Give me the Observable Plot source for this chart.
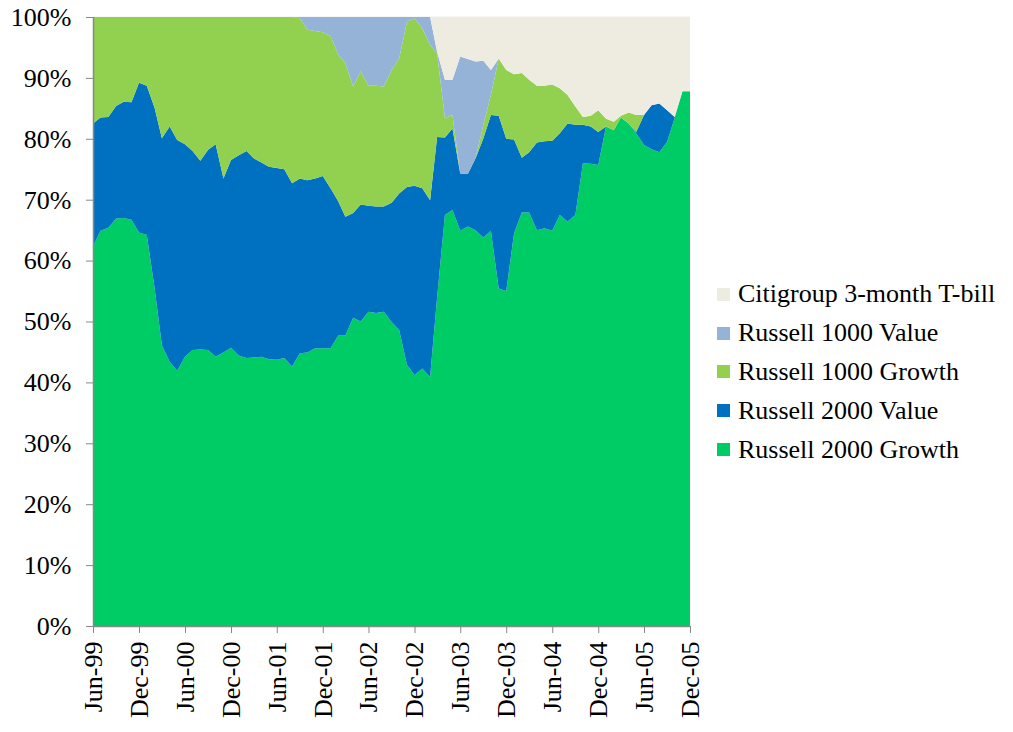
<!DOCTYPE html>
<html><head><meta charset="utf-8">
<script src="https://cdn.jsdelivr.net/npm/d3@7"></script>
<script src="https://cdn.jsdelivr.net/npm/@observablehq/plot@0.6"></script>
<style>
body{margin:0;background:#fff;}
#wrap{position:relative;width:1013px;height:732px;}
#legend{position:absolute;left:717px;top:275px;font-family:"Times New Roman",Times,"Liberation Serif","DejaVu Serif","Noto Serif",serif;font-size:26px;color:#000;}
.row{display:flex;align-items:center;height:38.8px;white-space:nowrap;}
.sw{width:13px;height:13px;margin-right:8px;flex:none;}
svg text{font-family:"Times New Roman",Times,"Liberation Serif","DejaVu Serif","Noto Serif",serif;}
</style></head><body><div id="wrap"><div id="legend"></div></div>
<script>
const startMonth = "1999-06-01";
const endMonth = "2005-12-01";
const seriesNames = ["Russell 2000 Growth","Russell 2000 Value","Russell 1000 Growth","Russell 1000 Value","Citigroup 3-month T-bill"];
const seriesColors = ["#00CC66","#0070C0","#92D050","#95B3D7","#EEECE1"];
const tickLabels = ["Jun-99","Dec-99","Jun-00","Dec-00","Jun-01","Dec-01","Jun-02","Dec-02","Jun-03","Dec-03","Jun-04","Dec-04","Jun-05","Dec-05"];
const yTicks = [0,10,20,30,40,50,60,70,80,90,100];

const r2000Growth = [62.3,64.9,65.4,66.9,67.0,66.7,64.6,64.2,55.5,46.1,43.4,41.9,44.2,45.3,45.4,45.3,44.2,44.9,45.7,44.4,44.0,44.1,44.2,43.8,43.7,44.0,42.6,44.8,44.9,45.6,45.6,45.6,47.7,47.7,50.6,50.0,51.6,51.4,51.6,49.9,48.6,42.9,41.2,42.3,40.9,54.0,67.5,68.3,64.9,65.6,65.0,63.8,64.9,55.4,55.0,64.5,67.9,67.9,65.0,65.3,64.9,67.5,66.4,67.5,76.0,75.9,75.7,82.0,81.4,83.5,82.5,80.9,79.0,78.3,77.8,79.5,83.4,87.8,87.8];
const r2000Value = [20.2,18.6,18.2,18.5,19.1,19.3,24.6,24.5,29.6,34.0,38.6,37.9,34.9,32.7,31.0,32.9,34.9,28.6,30.8,32.9,34.0,32.7,31.9,31.6,31.5,31.0,30.1,28.7,28.3,27.9,28.3,26.3,22.0,19.5,17.2,19.2,17.4,17.5,17.3,19.6,22.4,29.2,31.1,29.6,29.0,26.3,12.7,13.4,9.4,8.6,11.8,16.3,19.0,28.4,25.0,15.4,9.0,9.9,14.4,14.3,14.8,13.4,16.1,14.8,6.3,6.1,5.4,0,0,0,0,0.2,4.9,7.2,8.0,5.2,0.2,0,0];
const r1000Growth = [17.5,16.5,16.4,14.6,13.9,14.0,10.8,11.3,14.9,19.9,18.0,20.2,20.9,22.0,23.6,21.8,20.9,26.5,23.5,22.7,22.0,23.2,23.9,24.6,24.8,25.0,27.3,26.3,24.7,24.2,23.6,25.0,24.1,25.2,20.8,21.9,19.7,19.8,19.7,21.8,22.2,27.1,27.5,26.2,25.5,13.7,3.2,2.2,0,0,0,2.2,3.3,9.4,11.3,10.7,13.9,11.9,9.3,9.1,9.2,7.4,4.7,3.0,1.3,1.8,3.6,1.3,1.4,0.3,1.8,2.8,0,0,0,0,0,0,0];
const r1000Value = [0,0,0,0,0,0,0,0,0,0,0,0,0,0,0,0,0,0,0,0,0,0,0,0,0,0,0,0.2,2.1,2.3,2.5,3.1,6.2,7.6,11.4,8.9,11.3,11.3,11.4,8.7,6.8,0.8,0.2,1.9,4.6,0.3,6.3,5.8,19.2,18.9,15.9,10.5,4.1,0,0,0,0,0,0,0,0,0,0,0,0,0,0,0,0,0,0,0,0,0,0,0,0,0,0];
const tBill = [0,0,0,0,0,0,0,0,0,0,0,0,0,0,0,0,0,0,0,0,0,0,0,0,0,0,0,0,0,0,0,0,0,0,0,0,0,0,0,0,0,0,0,0,0,5.7,10.3,10.3,6.5,6.9,7.3,7.2,8.7,6.8,8.7,9.4,9.2,10.3,11.3,11.3,11.1,11.7,12.8,14.7,16.4,16.2,15.3,16.7,17.2,16.2,15.7,16.1,16.1,14.5,14.2,15.3,16.4,12.2,12.2];

const allSeries = [r2000Growth, r2000Value, r1000Growth, r1000Value, tBill];
const t0 = new Date(startMonth), t1 = new Date(endMonth);
const months = d3.utcMonth.range(t0, d3.utcMonth.offset(t1, 1));
const data = [];
allSeries.forEach((vals, s) => vals.forEach((v, i) => data.push({date: months[i], series: seriesNames[s], value: v})));

const tickDates = d3.utcMonth.range(t0, d3.utcMonth.offset(t1, 1), 6);
const labelMap = new Map(tickDates.map((d, i) => [+d, tickLabels[i]]));

const font = '"Times New Roman",Times,"Liberation Serif","DejaVu Serif","Noto Serif",serif';
const chart = Plot.plot({
  width: 1013, height: 732,
  marginLeft: 93, marginRight: 323, marginTop: 17, marginBottom: 106,
  style: {fontFamily: font, fontSize: "26px", color: "#000", background: "#fff", overflow: "visible"},
  x: {type: "utc", domain: [t0, t1]},
  y: {domain: [0, 100]},
  color: {domain: seriesNames, range: seriesColors},
  marks: [
    Plot.ruleY([100], {stroke: "#d9d9d9", strokeWidth: 1.5}),
    Plot.areaY(data, {x: "date", y: "value", fill: "series", z: "series", order: null, curve: "linear"}),
    Plot.ruleX([t0], {stroke: "#888", strokeWidth: 1.5}),
    Plot.ruleY([0], {stroke: "#888", strokeWidth: 1.5}),
    Plot.axisY({ticks: yTicks, tickFormat: d => d + "%", tickSize: 7, tickPadding: 15, label: null, stroke: "#888", fill: "#000", fontSize: 26}),
    Plot.axisX({ticks: tickDates, tickFormat: d => labelMap.get(+d), tickRotate: -90, tickSize: 7, tickPadding: 8, label: null, stroke: "#888", fill: "#000", fontSize: 26})
  ]
});
document.getElementById("wrap").prepend(chart);

const legend = document.getElementById("legend");
for (let s = seriesNames.length - 1; s >= 0; s--) {
  const row = document.createElement("div");
  row.className = "row";
  const sw = document.createElement("span");
  sw.className = "sw";
  sw.style.background = seriesColors[s];
  const tx = document.createElement("span");
  tx.textContent = seriesNames[s];
  row.append(sw, tx);
  legend.append(row);
}
</script>
</body></html>
